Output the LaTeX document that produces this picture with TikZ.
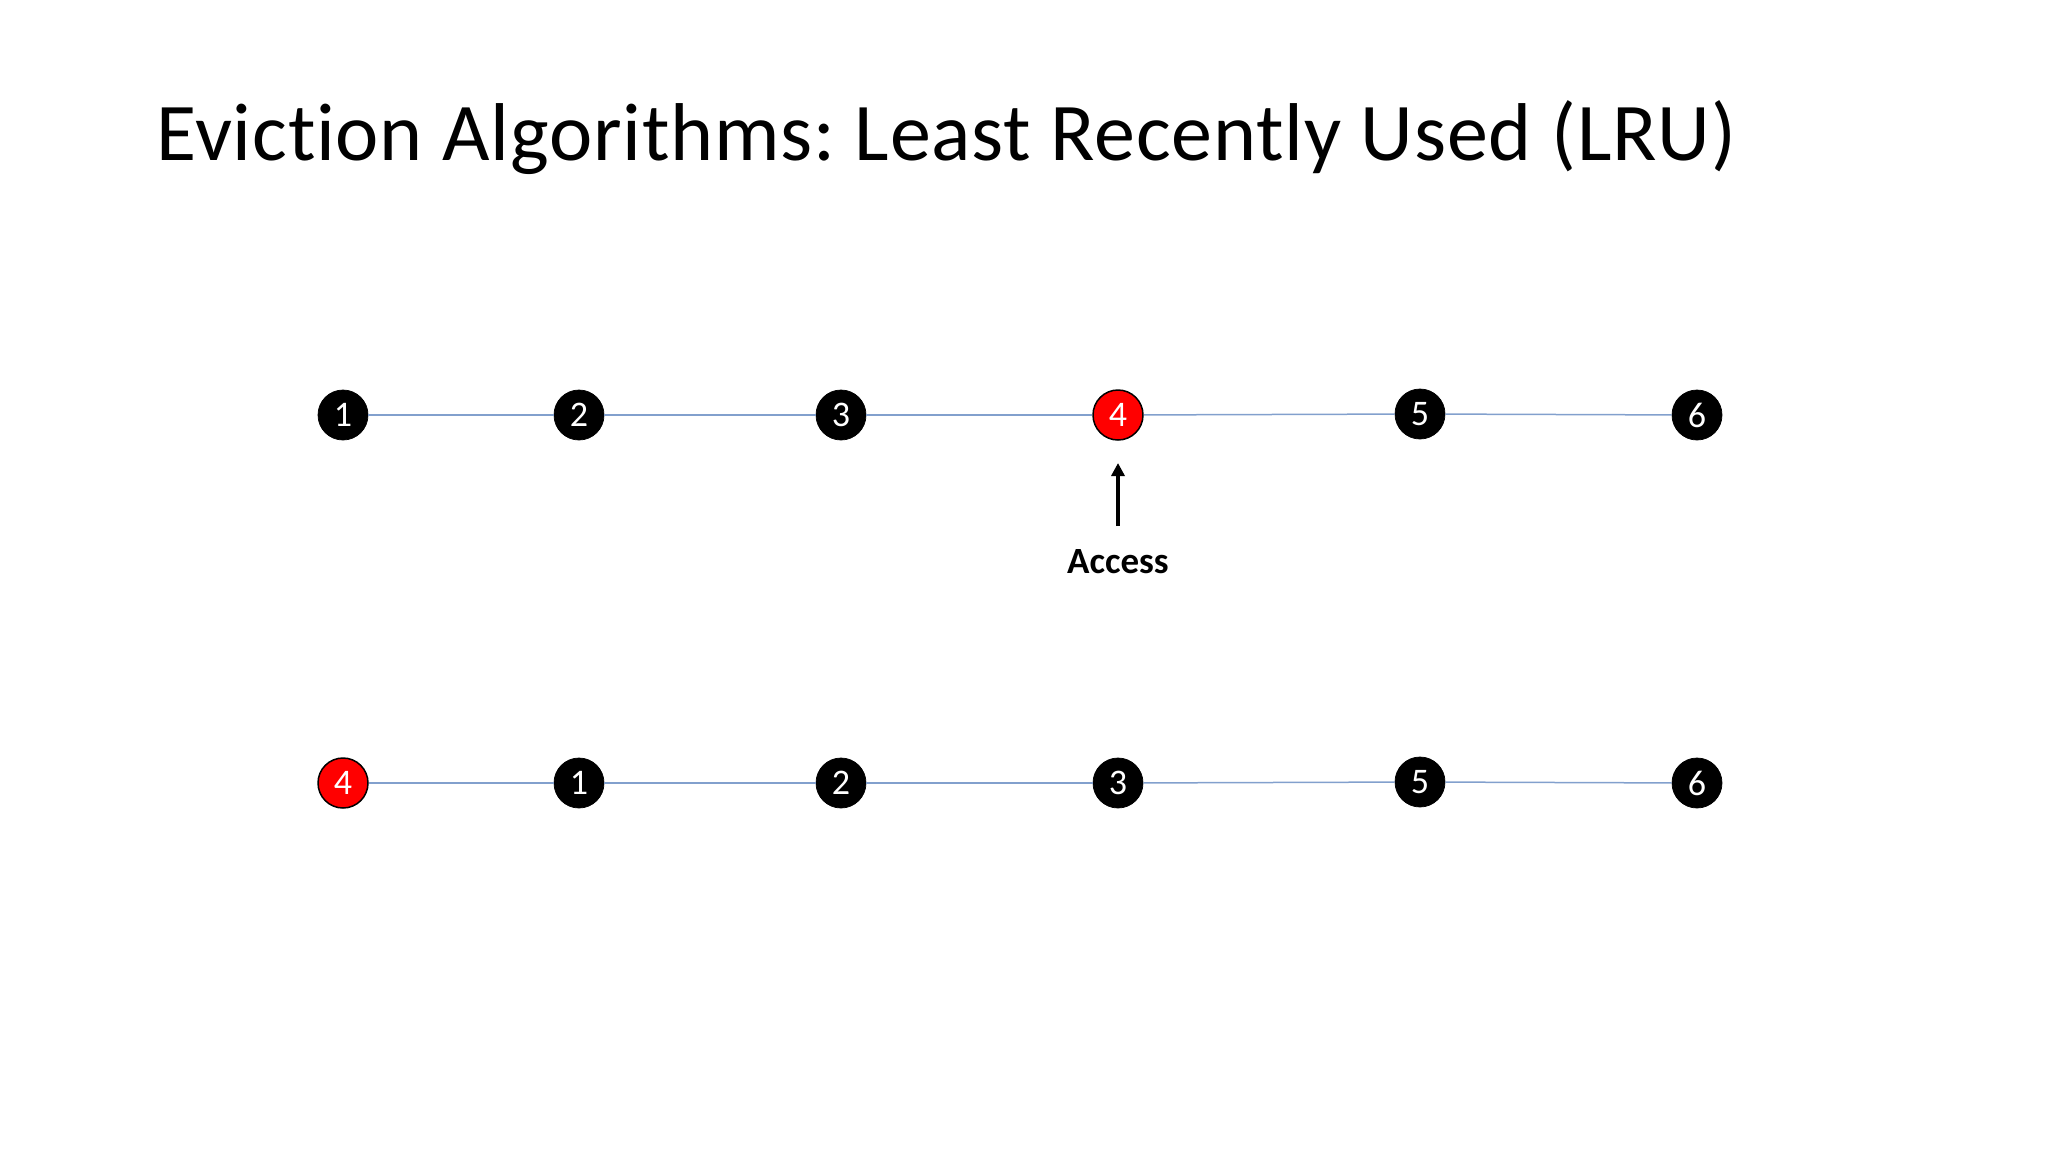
\documentclass[tikz,border=0pt]{standalone}
\usepackage{fontspec}
\setmainfont[Ligatures=NoCommon]{Carlito}
\usetikzlibrary{arrows.meta}
\frenchspacing

\tikzset{
	blk/.style={circle,fill=black,draw=black,line width=0.75,minimum size=50,inner sep=0pt,text=white,font=\fontsize{36}{36}\selectfont},
	hot/.style={blk,fill={rgb,255:red,255;green,0;blue,0},line width=1.5},
	link/.style={draw={rgb,255:red,130;green,160;blue,205},line width=1.5}
}

\begin{document}
\begin{tikzpicture}[x=1pt,y=1pt,yscale=-1,xscale=1]
	\useasboundingbox (0,0) rectangle (2048,1152);
	\draw (156,160) node [anchor=base west][inner sep=0pt] (ttl) {\fontsize{82}{82}\selectfont\addfontfeatures{LetterSpace=1}Eviction Algorithms: Least Recently Used (LRU)};
	% first row
	\node [blk] (a1) at (343,415) {1};
	\node [blk] (a2) at (579,415) {2};
	\node [blk] (a3) at (841,415) {3};
	\node [hot] (a4) at (1118,415) {4};
	\node [blk] (a5) at (1420,414) {5};
	\node [blk] (a6) at (1697,415) {6};
	\foreach \i/\j in {1/2,2/3,3/4,4/5,5/6}
		\draw [link] (a\i) -- (a\j);
	% access arrow
	\coordinate (acc) at (1118,526);
	\draw [line width=3.5,-{Triangle[length=13,width=13]}] (acc) -- (1118,463);
	\node [anchor=base,inner sep=0pt,font=\fontsize{37}{37}\selectfont\bfseries] (lbl) at (1118,573) {Access};
	% second row
	\node [hot] (b4) at (343,783) {4};
	\node [blk] (b1) at (579,783) {1};
	\node [blk] (b2) at (841,783) {2};
	\node [blk] (b3) at (1118,783) {3};
	\node [blk] (b5) at (1420,782) {5};
	\node [blk] (b6) at (1697,783) {6};
	\foreach \i/\j in {4/1,1/2,2/3,3/5,5/6}
		\draw [link] (b\i) -- (b\j);
\end{tikzpicture}
\end{document}
